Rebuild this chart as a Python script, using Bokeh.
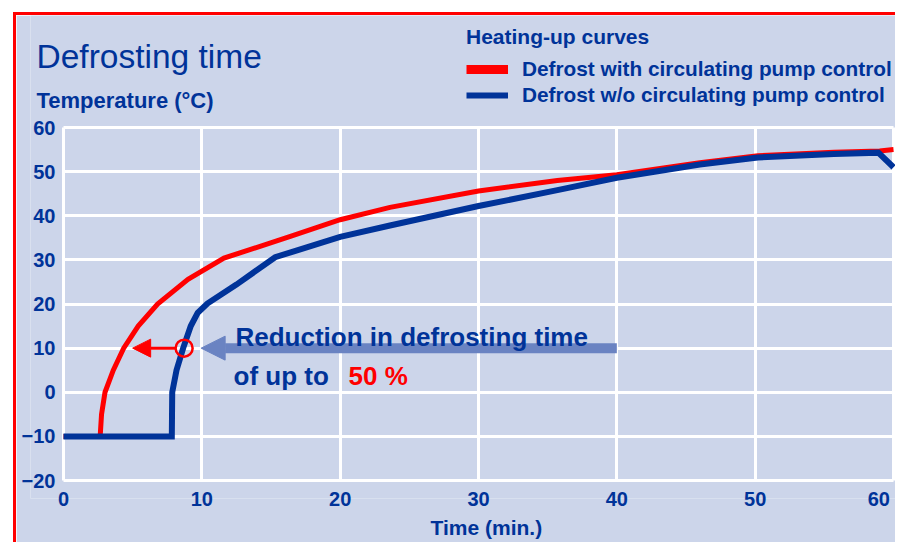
import math
from bokeh.plotting import figure
from bokeh.models import Label, Arrow, NormalHead, Legend, LegendItem, FixedTicker, Range1d, Title
from bokeh.embed import file_html
from bokeh.resources import INLINE

BG = "#CCD5EA"
NAVY = "#003399"
RED = "#FF0000"
ARROW_BLUE = "#6A83C2"
FONT = "Liberation Sans"

# ---- data ----
red_t = [0, 2.65, 2.75, 3.0, 3.6, 4.35, 5.4, 6.8, 9.0, 11.6, 16.4, 20, 23.6, 30, 35.7, 40, 46, 50.2, 55.7, 59, 60]
red_T = [-10, -10, -5, 0, 5, 10, 15, 20, 25.6, 30.4, 35.3, 39.1, 41.9, 45.6, 48.0, 49.3, 52.0, 53.6, 54.4, 54.7, 55.0]

blue_t = [0, 7.83, 7.86, 8.17, 8.65, 9.2, 9.7, 10.4, 12.5, 15.3, 20, 23.6, 30, 35.7, 40, 46, 50.2, 55.7, 58.9, 60]
blue_T = [-10, -10, 0, 5, 10, 15, 18, 20.1, 24.4, 30.6, 35.2, 37.8, 42.2, 45.8, 48.6, 51.6, 53.2, 54.0, 54.3, 51.0]

x_ticks = [0, 10, 20, 30, 40, 50, 60]
y_ticks = [-20, -10, 0, 10, 20, 30, 40, 50, 60]

# annotation: time at 10 °C for both curves, and the big arrow's span
mark_t = [8.72]
mark_T = [10]
red_arrow_t = [8.14, 5.0]
big_arrow_t = [40, 9.95]
arrow_T = 10

title_text = "Defrosting time"
ylabel_text = "Temperature (°C)"
xlabel_text = "Time (min.)"
legend_title = "Heating-up curves"
legend_labels = ["Defrost with circulating pump control", "Defrost w/o circulating pump control"]

# ---- layout (canvas pixels) ----
W, H = 882, 530
FL, FR, FT, FB = 14, 882, 0, 483                 # frame edges inside the canvas
BOX_L, BOX_R, BOX_T, BOX_B = 47, 877, 112, 465   # where t=0, t=60, T=60, T=-20 fall
sx = (BOX_R - BOX_L) / 60.0
sy = (BOX_B - BOX_T) / 80.0
x_lo = -(BOX_L - FL) / sx
x_hi = 60 + (FR - BOX_R) / sx
y_hi = 60 + (BOX_T - FT) / sy
y_lo = -20 - (FB - BOX_B) / sy

p = figure(width=W, height=H, x_range=Range1d(x_lo, x_hi), y_range=Range1d(y_lo, y_hi),
           output_backend="svg", toolbar_location=None,
           min_border_left=FL, min_border_right=W - FR, min_border_top=FT, min_border_bottom=H - FB,
           background_fill_color=BG, border_fill_color=BG, outline_line_color=None)
p.margin = (12, 0, 0, 13)
p.styles = {"border-top": "3px solid #FF0000", "border-left": "3px solid #FF0000"}

p.grid.grid_line_color = "white"
p.grid.grid_line_width = 3
p.xgrid.cross_bounds = (-20, 60)
p.ygrid.cross_bounds = (0, 60)

p.xaxis.ticker = FixedTicker(ticks=x_ticks)
p.yaxis.ticker = FixedTicker(ticks=y_ticks)
for ax in (p.xaxis[0], p.yaxis[0]):
    ax.axis_line_color = None
    ax.major_tick_line_color = None
    ax.minor_tick_line_color = None
    ax.major_tick_in = 0
    ax.major_tick_out = 0
    ax.major_label_text_font = FONT
    ax.major_label_text_font_style = "bold"
    ax.major_label_text_font_size = "20px"
    ax.major_label_text_color = NAVY
# tick labels sit just outside the white box, i.e. inside the (larger) frame
p.yaxis.major_label_standoff = -(BOX_L - FL - 8)
p.xaxis.major_label_standoff = -(FB - BOX_B - 7)
p.xaxis.major_label_overrides = {60: "60\u00a0"}

p.add_layout(Title(text=xlabel_text, align="left", offset=414 - FL, standoff=6, vertical_align="top",
                   text_font=FONT, text_font_style="bold", text_font_size="21px", text_color=NAVY),
             "below")

# curves
p.line(red_t, red_T, line_color=RED, line_width=5, line_join="miter")
p.line(blue_t, blue_T, line_color=NAVY, line_width=6, line_join="miter")

# legend swatches (thicker than the plotted lines)
leg_red = p.line([math.nan], [math.nan], line_color=RED, line_width=9)
leg_blue = p.line([math.nan], [math.nan], line_color=NAVY, line_width=6)
legend = Legend(items=[LegendItem(label=legend_labels[0], renderers=[leg_red]),
                       LegendItem(label=legend_labels[1], renderers=[leg_blue])],
                location=(450 - FL, FB - 92), title=legend_title,
                title_text_font=FONT, title_text_font_style="bold", title_text_font_size="21px",
                title_text_color=NAVY, title_standoff=8,
                label_text_font=FONT, label_text_font_style="bold", label_text_font_size="20.8px",
                label_text_color=NAVY, label_standoff=14, glyph_width=42, glyph_height=22,
                label_height=22, spacing=2, padding=0, margin=0,
                border_line_alpha=0, background_fill_alpha=0)
p.add_layout(legend)

# annotation
p.scatter(mark_t, mark_T, marker="circle", size=17, fill_color=None, line_color=RED, line_width=2.5)
p.add_layout(Arrow(end=NormalHead(size=24, fill_color=ARROW_BLUE, line_color=ARROW_BLUE, line_width=1),
                   x_start=big_arrow_t[0], y_start=arrow_T, x_end=big_arrow_t[1], y_end=arrow_T,
                   line_color=ARROW_BLUE, line_width=10))
p.add_layout(Arrow(end=NormalHead(size=18, fill_color=RED, line_color=RED, line_width=1),
                   x_start=red_arrow_t[0], y_start=arrow_T, x_end=red_arrow_t[1], y_end=arrow_T,
                   line_color=RED, line_width=3))

def lab(px, py, text, size, color=NAVY, style="bold"):
    # px, py: canvas pixel position of the text's left end / baseline
    p.add_layout(Label(x=(px - BOX_L) / sx, y=60 - (py - BOX_T) / sy, text=text, text_font=FONT,
                       text_font_style=style, text_font_size=size, text_color=color,
                       text_baseline="alphabetic"))

lab(20, 41, title_text, "33.5px", style="normal")
lab(20, 85, ylabel_text, "22px")
lab(219, 321, "Reduction in defrosting time", "26px")
lab(217, 360, "of up to", "26px")
lab(332, 360, "50 %", "26px", color=RED)

open("out.html", "w").write(file_html(p, INLINE))
